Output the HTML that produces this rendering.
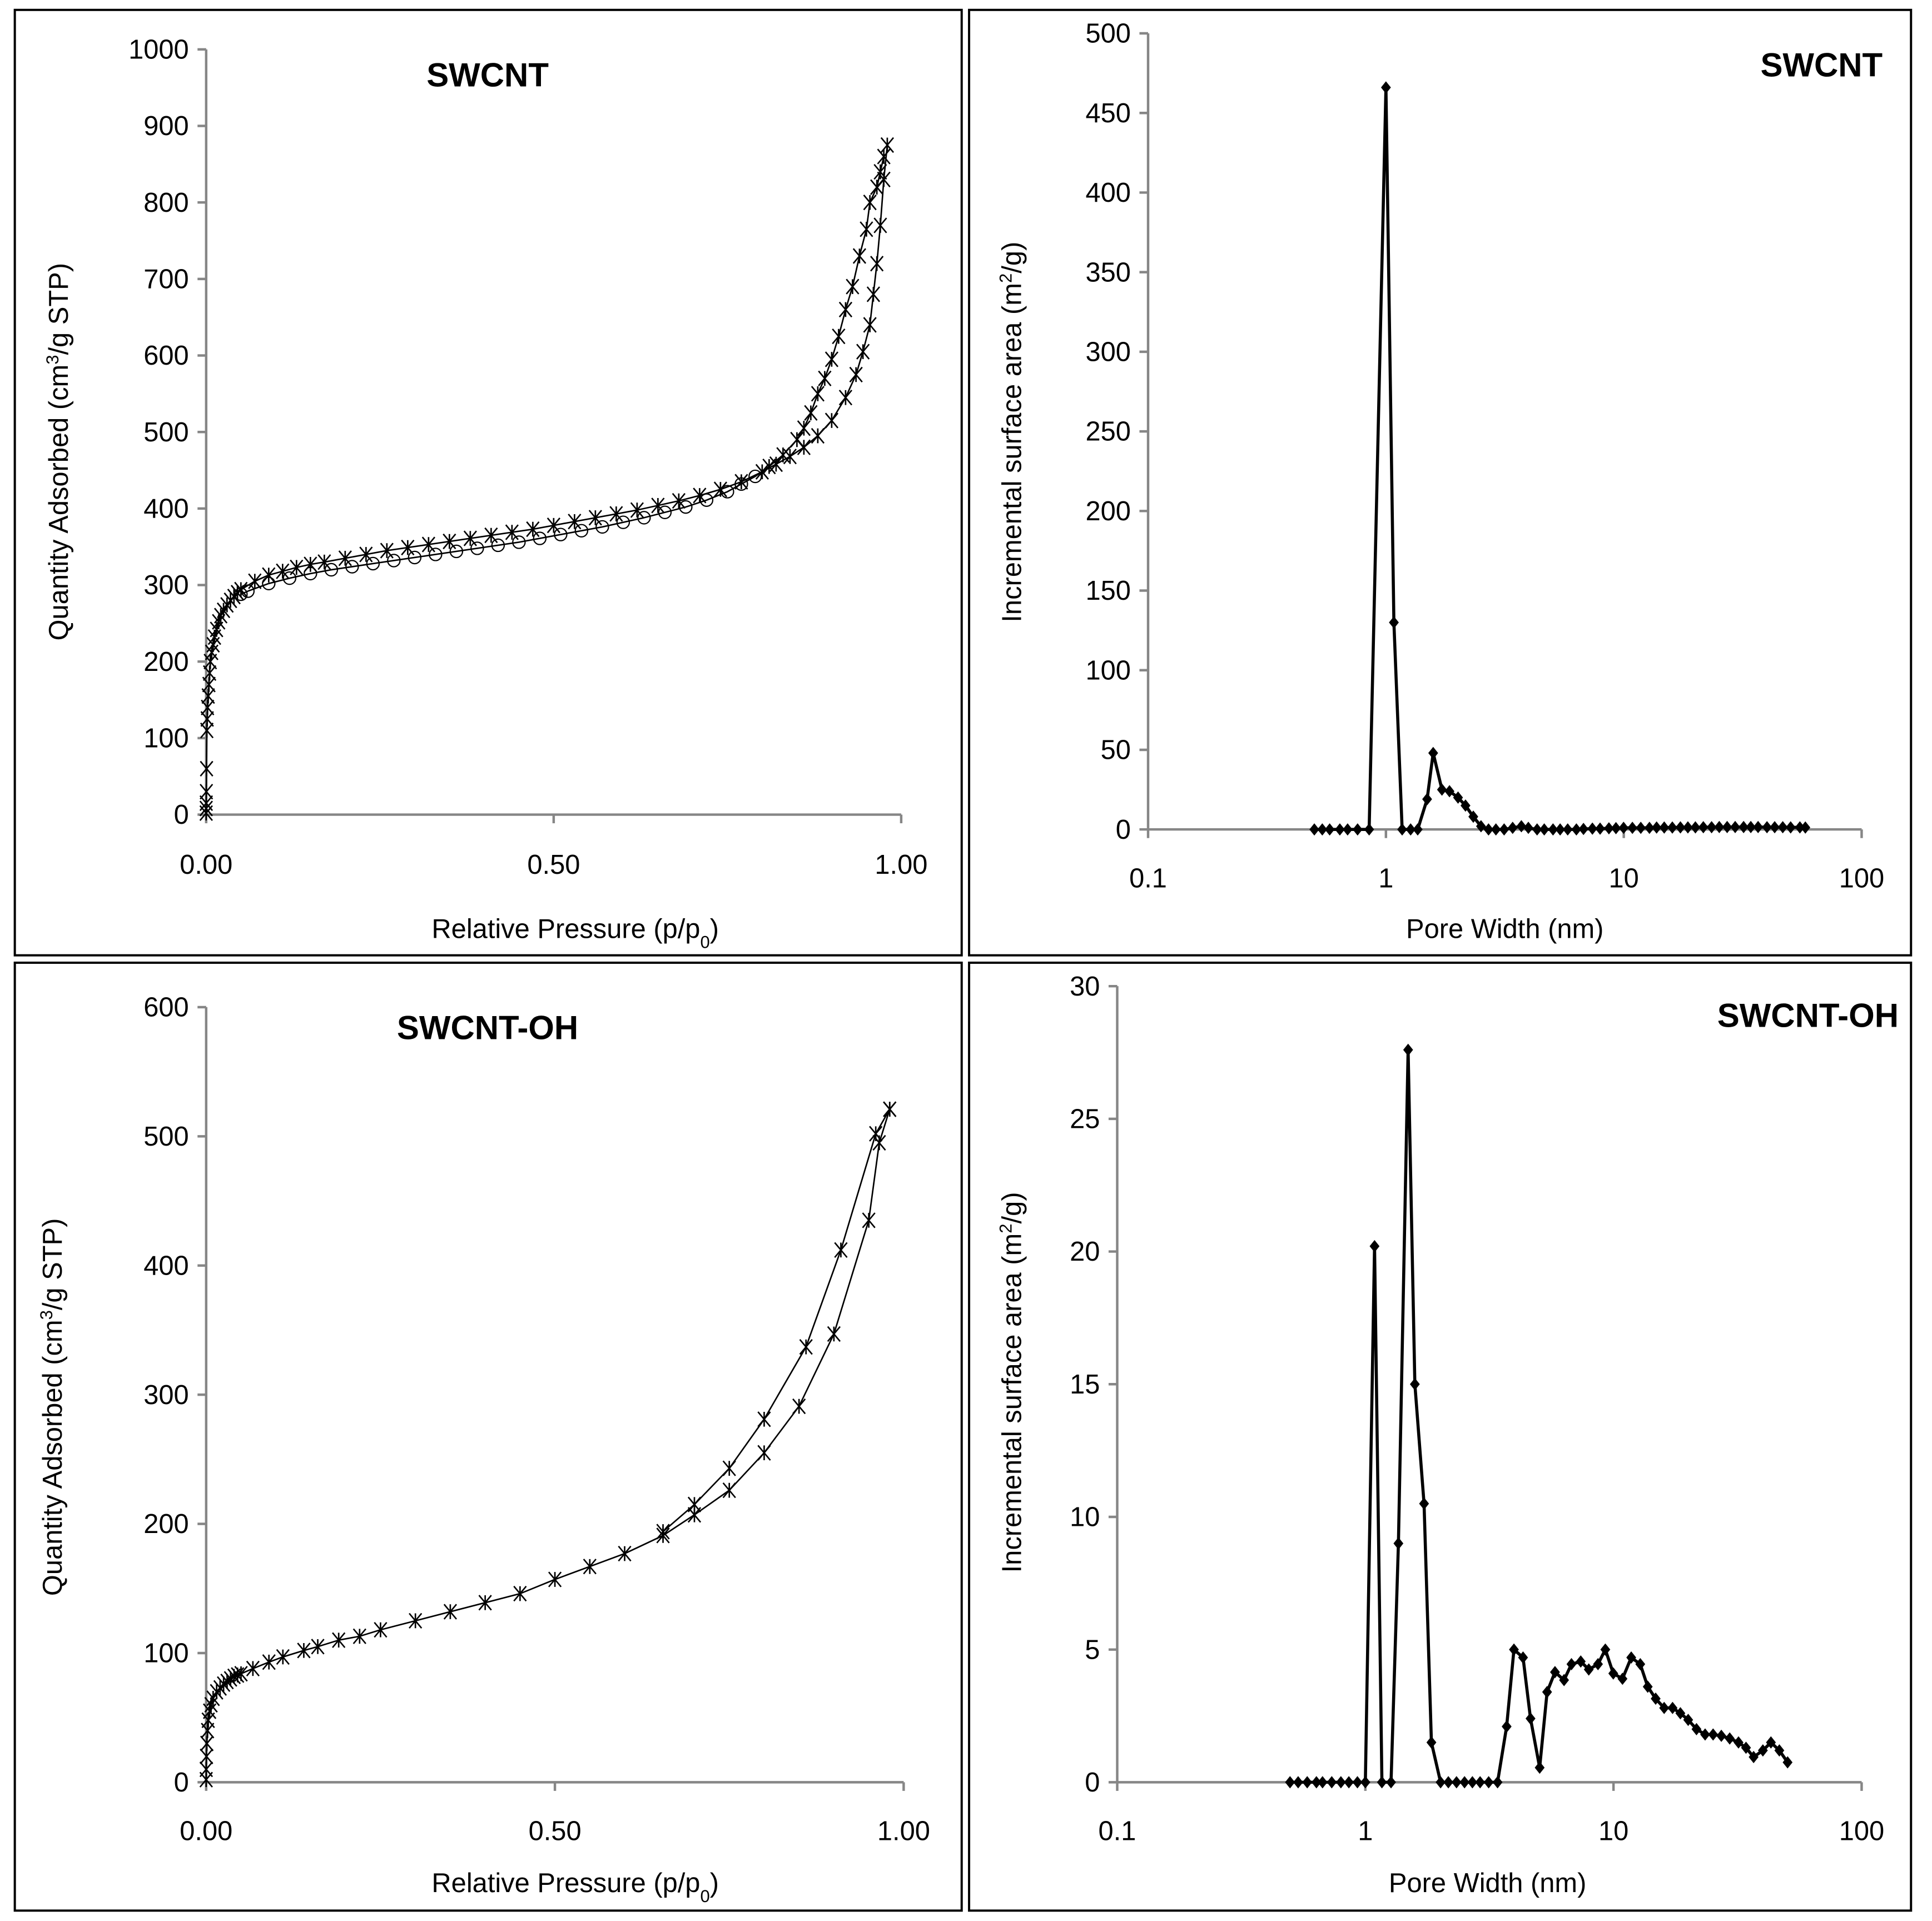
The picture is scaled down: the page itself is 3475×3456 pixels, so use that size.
<!DOCTYPE html>
<html><head><meta charset="utf-8"><style>
html,body{margin:0;padding:0;background:#fff}
svg{display:block}
text{font-family:"Liberation Sans",sans-serif;fill:#000}
</style></head><body>
<svg id="fig" xmlns="http://www.w3.org/2000/svg" width="3475" height="3456" viewBox="0 0 1565 1556.4">
<rect x="0" y="0" width="1565" height="1556.4" fill="#fff"/>
</svg>
<script>
// ---- SWCNT isotherm (top-left) ----
const swAdsP=[0.00001,0.00003,0.0001,0.0003,0.0006,0.001,0.0015,0.002,0.003,0.004,0.005,0.006,0.008,0.010,0.012,0.015,0.018,0.021,0.025,0.03,0.035,0.04,0.045,0.05,0.07,0.09,0.11,0.13,0.15,0.17,0.2,0.23,0.26,0.29,0.32,0.35,0.38,0.41,0.44,0.47,0.5,0.53,0.56,0.59,0.62,0.65,0.68,0.71,0.74,0.77,0.8,0.82,0.84,0.86,0.88,0.9,0.92,0.935,0.945,0.955,0.96,0.965,0.97,0.975,0.98];
const swAdsQ=[2,8,15,30,60,110,125,140,155,170,185,200,212,222,232,242,252,260,267,274,280,285,290,294,305,313,318,323,327,330,335,340,345,349,353,357,361,365,369,373,378,383,388,393,398,404,410,417,425,435,448,458,468,480,495,515,545,575,605,640,680,720,770,830,875];
const swDesP=[0.975,0.97,0.965,0.955,0.95,0.94,0.93,0.92,0.91,0.90,0.89,0.88,0.87,0.86,0.85,0.83,0.81,0.79,0.77,0.75,0.72,0.69,0.66,0.63,0.6,0.57,0.54,0.51,0.48,0.45,0.42,0.39,0.36,0.33,0.3,0.27,0.24,0.21,0.18,0.15,0.12,0.09,0.06,0.05];
const swDesQ=[860,840,820,800,765,730,690,660,625,595,570,550,525,505,490,470,455,442,432,422,411,402,395,388,382,376,371,366,361,356,352,348,344,340,336,332,328,324,320,315,309,302,292,288];
// ---- SWCNT-OH isotherm (bottom-left) ----
const ohAdsP=[0.00001,0.0001,0.0005,0.001,0.002,0.003,0.005,0.007,0.01,0.015,0.02,0.025,0.03,0.035,0.04,0.045,0.05,0.067,0.09,0.11,0.14,0.16,0.19,0.22,0.25,0.3,0.35,0.4,0.45,0.5,0.55,0.6,0.655,0.7,0.75,0.8,0.85,0.9,0.95,0.965,0.98];
const ohAdsQ=[2,10,20,30,40,48,55,60,65,70,73,76,78,80,82,83,84,88,93,97,102,105,110,113,118,125,132,139,146,157,167,177,191,207,226,255,291,347,435,495,521];
const ohDesP=[0.98,0.96,0.91,0.86,0.80,0.75,0.70,0.655];
const ohDesQ=[521,502,412,337,281,243,215,194];
// ---- SWCNT pore distribution (top-right) ----
const swPoreW=[0.50,0.54,0.58,0.64,0.69,0.76,0.85,1.0,1.08,1.17,1.27,1.36,1.49,1.58,1.72,1.85,2.01,2.16,2.33,2.51,2.70,2.90,3.14,3.41,3.71,3.97,4.32,4.63,5.04,5.40,5.81,6.32,6.77,7.38,7.95,8.66,9.27,9.98,10.87,11.79,12.82,13.74,14.79,16.0,17.3,18.6,20.0,21.6,23.4,25.2,27.2,29.4,31.9,34.2,36.7,40.0,43.1,46.6,50.3,55.0,58.0];
const swPoreA=[0,0,0,0,0,0,0,466,130,0,0,0,19,48,25,24,20,15,8,2,0,0,0,1,2,1,0,0,0,0,0,0,0.3,0.5,0.5,0.7,0.8,1,1,1,1,1.2,1.2,1.2,1.3,1.3,1.3,1.4,1.4,1.5,1.5,1.5,1.5,1.5,1.5,1.4,1.4,1.4,1.3,1.3,1.2];
// ---- SWCNT-OH pore distribution (bottom-right) ----
const ohPoreW=[0.497,0.536,0.583,0.635,0.672,0.732,0.797,0.858,0.929,1.0,1.089,1.166,1.269,1.359,1.487,1.583,1.724,1.846,2.01,2.16,2.33,2.51,2.70,2.90,3.14,3.41,3.71,3.97,4.32,4.63,5.04,5.40,5.81,6.32,6.77,7.38,7.95,8.66,9.27,9.98,10.87,11.79,12.82,13.74,14.79,16.0,17.3,18.6,20.0,21.6,23.4,25.2,27.2,29.4,31.9,34.2,36.7,40.0,43.1,46.6,50.3];
const ohPoreA=[0,0,0,0,0,0,0,0,0,0,20.2,0,0,9.0,27.6,15.0,10.5,1.5,0,0,0,0,0,0,0,0,2.1,5.0,4.7,2.4,0.55,3.4,4.15,3.85,4.45,4.55,4.25,4.45,5.0,4.1,3.9,4.7,4.45,3.6,3.15,2.8,2.8,2.6,2.35,2.0,1.8,1.8,1.75,1.65,1.5,1.3,0.95,1.2,1.5,1.2,0.75];
const isoTicksX=[0,0.5,1];
const isoTickLabelsX=["0.00","0.50","1.00"];
const poreTicksX=[0.1,1,10,100];
const poreTickLabelsX=["0.1","1","10","100"];

const NS="http://www.w3.org/2000/svg";
const svg=document.getElementById('fig');
function mk(tag,attrs,parent){const e=document.createElementNS(NS,tag);for(const k in attrs)e.setAttribute(k,attrs[k]);(parent||svg).appendChild(e);return e;}
function txt(s,x,y,size,anchor,parent,bold){const t=mk('text',{x:x,y:y,'font-size':size,'text-anchor':anchor||'middle'},parent);if(bold)t.setAttribute('font-weight','bold');t.textContent=s;return t;}

const panels=[[12,8,767,766,'panel-swcnt-isotherm'],[785,8,763,766,'panel-swcnt-pore'],[12,780,767,768,'panel-swcnt-oh-isotherm'],[785,780,763,768,'panel-swcnt-oh-pore']];
panels.forEach(p=>{const r=mk('rect',{x:p[0],y:p[1],width:p[2],height:p[3],fill:'none',stroke:'#000','stroke-width':1.8});

});

function chart(o){
  const g=mk('g',{});
  
  
  const X=o.log?(v=>o.x0+(Math.log10(v)-Math.log10(o.xmin))/(Math.log10(o.xmax)-Math.log10(o.xmin))*(o.x1-o.x0)):(v=>o.x0+(v-o.xmin)/(o.xmax-o.xmin)*(o.x1-o.x0));
  const Y=v=>o.y0-(v-o.ymin)/(o.ymax-o.ymin)*(o.y0-o.y1);
  const ax=mk('g',{stroke:'#868686','stroke-width':2,fill:'none'},g);
  
  
  mk('line',{x1:o.x0,y1:Y(o.ymax),x2:o.x0,y2:Y(o.ymin)},ax);
  mk('line',{x1:o.x0,y1:Y(0),x2:o.x1,y2:Y(0)},ax);
  for(let v=o.ymin;v<=o.ymax+1e-9;v+=o.ystep){
    mk('line',{x1:o.x0-7,y1:Y(v),x2:o.x0,y2:Y(v)},ax);
    const t=txt(String(v),o.x0-14,Y(v)+7.5,22,'end',g);
    
    
  }
  o.xt.forEach((v,i)=>{
    mk('line',{x1:X(v),y1:Y(0),x2:X(v),y2:Y(0)+7},ax);
    const t=txt(o.xl[i],X(v),o.xly,22,'middle',g);
    
    
  });
  const xt=mk('text',{x:o.xtx,y:o.xty,'font-size':22,'text-anchor':'middle'},g);
  
  
  xt.innerHTML=o.xtitle;
  const yt=mk('text',{x:0,y:0,'font-size':22,'text-anchor':'middle',transform:`translate(${o.ytx},${o.yty}) rotate(-90)`},g);
  
  
  yt.innerHTML=o.ytitle;
  const ct=txt(o.title,o.tx,o.ty,27,o.tanchor,g,true);
  
  
  o.series.forEach(s=>{
    const pts=s.xs.map((v,i)=>X(v).toFixed(2)+','+Y(s.ys[i]).toFixed(2)).join(' ');
    const pl=mk('polyline',{points:pts,fill:'none',stroke:'#000','stroke-width':s.lw,'stroke-linejoin':'round'},g);
    
    
    s.xs.forEach((v,i)=>{
      const cx=X(v),cy=Y(s.ys[i]);const m=s.marker(v);let e;
      if(m==='diamond'){e=mk('path',{d:`M${cx},${cy-5}L${cx+4},${cy}L${cx},${cy+5}L${cx-4},${cy}Z`,fill:'#000'},g);}
      else if(m==='circle'){e=mk('circle',{cx:cx,cy:cy,r:5,fill:'#fff','fill-opacity':0,stroke:'#000','stroke-width':1},g);}
      else {e=mk('path',{d:`M${cx-5},${cy-6}L${cx+5},${cy+6}M${cx-5},${cy+6}L${cx+5},${cy-6}M${cx},${cy-6}L${cx},${cy+6}`,stroke:'#000','stroke-width':1.2,fill:'none'},g);}
      
      
    });
  });
}
const isoY='Quantity Adsorbed (cm<tspan baseline-shift="super" font-size="14">3</tspan>/g STP)';
const isoX='Relative Pressure (p/p<tspan baseline-shift="sub" font-size="14">0</tspan>)';
const poreY='Incremental surface area (m<tspan baseline-shift="super" font-size="14">2</tspan>/g)';
const poreX='Pore Width (nm)';
chart({name:'swcnt-isotherm-chart',x0:167,x1:730,xmin:0,xmax:1,y0:660,y1:40,ymin:0,ymax:1000,ystep:100,xt:isoTicksX,xl:isoTickLabelsX,xly:708,
  xtitle:isoX,xtx:466,xty:760,ytitle:isoY,ytx:55,yty:366,title:'SWCNT',tx:395,ty:70,tanchor:'middle',
  series:[{name:'swcnt-adsorption',xs:swAdsP,ys:swAdsQ,lw:1.2,marker:()=>'star'},
          {name:'swcnt-desorption',xs:swDesP,ys:swDesQ,lw:1.2,marker:v=>v>0.8?'star':'circle'}]});
chart({name:'swcnt-pore-chart',log:true,x0:930,x1:1508,xmin:0.1,xmax:100,y0:672,y1:27,ymin:0,ymax:500,ystep:50,xt:poreTicksX,xl:poreTickLabelsX,xly:719,
  xtitle:poreX,xtx:1219,xty:760,ytitle:poreY,ytx:827,yty:350,title:'SWCNT',tx:1525,ty:62,tanchor:'end',
  series:[{name:'swcnt-pore',xs:swPoreW,ys:swPoreA,lw:2.5,marker:()=>'diamond'}]});
chart({name:'swcnt-oh-isotherm-chart',x0:167,x1:732,xmin:0,xmax:1,y0:1444,y1:816,ymin:0,ymax:600,ystep:100,xt:isoTicksX,xl:isoTickLabelsX,xly:1491,
  xtitle:isoX,xtx:466,xty:1533,ytitle:isoY,ytx:50,yty:1140,title:'SWCNT-OH',tx:395,ty:842,tanchor:'middle',
  series:[{name:'swcnt-oh-adsorption',xs:ohAdsP,ys:ohAdsQ,lw:1.2,marker:()=>'star'},
          {name:'swcnt-oh-desorption',xs:ohDesP,ys:ohDesQ,lw:1.2,marker:()=>'star'}]});
chart({name:'swcnt-oh-pore-chart',log:true,x0:905,x1:1508,xmin:0.1,xmax:100,y0:1444,y1:799,ymin:0,ymax:30,ystep:5,xt:poreTicksX,xl:poreTickLabelsX,xly:1491,
  xtitle:poreX,xtx:1205,xty:1533,ytitle:poreY,ytx:827,yty:1120,title:'SWCNT-OH',tx:1538,ty:832,tanchor:'end',
  series:[{name:'swcnt-oh-pore',xs:ohPoreW,ys:ohPoreA,lw:2.5,marker:()=>'diamond'}]});
</script>
</body></html>
